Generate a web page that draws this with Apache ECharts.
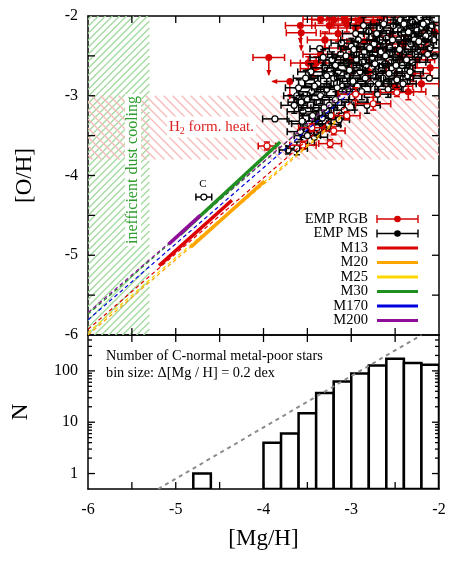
<!DOCTYPE html>
<html>
<head>
<meta charset="utf-8">
<script src="https://cdn.jsdelivr.net/npm/echarts@6/dist/echarts.min.js"></script>
<style>
  html, body { margin: 0; padding: 0; background: #fff; }
  #chart { width: 463px; height: 563px; }
</style>
</head>
<body>
<div id="chart"></div>
<script>
// ---- data ----
// [x, y, xerr, yerr]
const msPoints = [
  [-3.87,-3.29,0.14,0], [-3.36,-2.41,0.11,0], [-3.11,-2.34,0.12,0], [-2.05,-2.50,0.15,0],
  [-2.11,-2.78,0.18,0], [-3.72,-3.68,0.1,0.05], [-3.62,-3.66,0.12,0.08],
  [-3.58,-3.45,0.15,0.1], [-3.55,-3.20,0.18,0.1], [-3.50,-3.05,0.15,0.1], [-3.48,-3.35,0.2,0.12],
  [-3.45,-2.95,0.15,0.1], [-3.42,-3.52,0.15,0.1], [-3.40,-3.15,0.2,0.1], [-3.62,-3.00,0.15,0.1],
  [-3.65,-3.12,0.15,0.1], [-3.52,-2.78,0.14,0.1],
  [-3.38,-2.85,0.15,0.1], [-3.35,-3.00,0.2,0.1], [-3.33,-3.28,0.15,0.1], [-3.30,-2.65,0.15,0.1],
  [-3.28,-2.92,0.12,0.1], [-3.25,-3.12,0.18,0.1], [-3.22,-2.55,0.15,0.1], [-3.20,-2.78,0.15,0.1],
  [-3.37,-3.42,0.12,0.1], [-3.26,-3.36,0.14,0.08],
  [-3.18,-3.05,0.15,0.1], [-3.15,-2.70,0.18,0.1], [-3.12,-2.48,0.15,0.1], [-3.10,-2.88,0.15,0.1],
  [-3.08,-3.18,0.12,0.1], [-3.05,-2.60,0.2,0.1], [-3.02,-2.95,0.15,0.1], [-3.00,-2.38,0.15,0.1],
  [-3.14,-3.30,0.12,0.08], [-3.04,-2.75,0.15,0.1],
  [-2.98,-2.82,0.15,0.1], [-2.96,-3.08,0.15,0.1], [-2.94,-2.55,0.15,0.1], [-2.92,-2.30,0.2,0.1],
  [-2.90,-2.70,0.15,0.1], [-2.88,-2.95,0.18,0.1], [-2.85,-2.45,0.15,0.1], [-2.83,-2.62,0.15,0.1],
  [-2.82,-3.12,0.15,0.1], [-2.80,-2.20,0.15,0.1],
  [-2.78,-2.85,0.15,0.1], [-2.76,-2.52,0.15,0.1], [-2.74,-2.35,0.18,0.1], [-2.72,-2.70,0.15,0.1],
  [-2.70,-2.98,0.15,0.1], [-2.68,-2.15,0.15,0.1], [-2.66,-2.45,0.15,0.1], [-2.64,-2.78,0.2,0.1],
  [-2.62,-2.60,0.15,0.1], [-2.60,-2.28,0.15,0.1],
  [-2.58,-2.92,0.15,0.1], [-2.56,-2.40,0.15,0.1], [-2.54,-2.65,0.15,0.1], [-2.52,-2.12,0.15,0.1],
  [-2.50,-2.52,0.2,0.1], [-2.48,-2.80,0.15,0.1], [-2.46,-2.30,0.15,0.1], [-2.44,-2.05,0.15,0.1],
  [-2.42,-2.62,0.15,0.1], [-2.40,-2.20,0.15,0.1],
  [-2.38,-2.45,0.15,0.1], [-2.36,-2.75,0.15,0.1], [-2.34,-2.10,0.15,0.1], [-2.32,-2.35,0.15,0.1],
  [-2.30,-2.58,0.15,0.1], [-2.28,-2.25,0.15,0.1], [-2.26,-2.05,0.15,0.1], [-2.24,-2.42,0.15,0.1],
  [-2.20,-2.15,0.15,0.1],
  [-2.18,-2.32,0.15,0.1], [-2.14,-2.08,0.15,0.1], [-2.12,-2.22,0.15,0.1],
  [-2.10,-2.40,0.15,0.1], [-2.08,-2.12,0.15,0.1], [-2.06,-2.30,0.15,0.1],
  [-2.30,-2.08,0.12,0.08], [-2.25,-2.18,0.12,0.08], [-2.22,-2.02,0.12,0.08], [-2.18,-2.10,0.12,0.08],
  [-2.15,-2.25,0.12,0.08], [-2.35,-2.20,0.12,0.08], [-2.28,-2.30,0.12,0.08], [-2.40,-2.10,0.12,0.08],
  [-3.46,-2.70,0.15,0.1], [-3.42,-2.88,0.18,0.1], [-3.32,-2.52,0.15,0.1], [-3.28,-2.75,0.2,0.1],
  [-3.18,-2.62,0.15,0.1], [-3.16,-2.90,0.15,0.1], [-3.06,-2.50,0.15,0.1], [-3.02,-2.68,0.18,0.1],
  [-2.97,-2.42,0.15,0.1], [-2.93,-2.88,0.15,0.1], [-2.87,-2.58,0.15,0.1], [-2.84,-2.78,0.18,0.1],
  [-2.79,-2.40,0.15,0.1], [-2.73,-2.60,0.15,0.1], [-2.69,-2.85,0.15,0.1], [-2.67,-2.30,0.15,0.1],
  [-2.61,-2.50,0.18,0.1], [-2.57,-2.72,0.15,0.1], [-2.53,-2.30,0.15,0.1], [-2.49,-2.62,0.15,0.1],
  [-2.45,-2.42,0.15,0.1], [-2.41,-2.85,0.15,0.1], [-2.37,-2.55,0.15,0.1], [-2.33,-2.70,0.15,0.1],
  [-2.27,-2.48,0.15,0.1], [-2.23,-2.32,0.15,0.1], [-2.13,-2.48,0.15,0.1],
  [-3.56,-3.32,0.15,0.1], [-3.50,-3.50,0.15,0.1], [-3.44,-3.25,0.15,0.1], [-3.39,-3.40,0.15,0.1],
  [-3.31,-3.15,0.15,0.1], [-3.23,-3.25,0.15,0.1], [-3.60,-2.90,0.15,0.1], [-3.57,-3.08,0.15,0.1],
  [-2.95,-2.22,0.15,0.1], [-2.86,-2.12,0.15,0.1], [-2.71,-2.22,0.15,0.1], [-2.63,-2.10,0.15,0.1]
];
const cPoint = [[-4.68, -4.27, 0.09, 0]];
const rgbPoints = [
  [-3.49,-2.59,0.2,0.08], [-3.40,-2.59,0.18,0.08], [-3.43,-2.66,0.15,0.1], [-3.35,-2.48,0.2,0.1],
  [-3.30,-2.30,0.2,0.1], [-3.25,-2.12,0.2,0.1], [-3.20,-2.05,0.25,0.1], [-3.15,-2.22,0.2,0.1],
  [-3.10,-2.40,0.2,0.1], [-3.05,-2.10,0.2,0.1], [-3.00,-2.55,0.2,0.1], [-2.95,-2.15,0.2,0.1],
  [-2.90,-2.05,0.2,0.1], [-2.85,-2.32,0.2,0.1], [-2.80,-2.70,0.2,0.1], [-2.75,-2.08,0.2,0.1],
  [-2.70,-2.42,0.2,0.1], [-2.65,-2.02,0.2,0.1], [-2.60,-2.60,0.2,0.1], [-2.55,-2.25,0.2,0.1],
  [-2.50,-2.88,0.2,0.1], [-2.45,-2.50,0.2,0.1], [-2.40,-2.35,0.2,0.1], [-2.35,-2.95,0.2,0.1],
  [-2.30,-2.72,0.2,0.1], [-2.25,-2.55,0.2,0.1], [-2.20,-2.85,0.2,0.1], [-2.15,-2.45,0.2,0.1],
  [-2.10,-2.65,0.2,0.1], [-2.05,-2.20,0.2,0.1], [-3.35,-2.04,0.2,0.05], [-3.08,-2.03,0.2,0.05]
];
const rgbOpenPoints = [
  [-3.96,-3.63,0.1,0.05], [-3.24,-3.60,0.13,0.05], [-3.20,-3.44,0.13,0.05], [-2.48,-2.96,0.19,0.05],
  [-3.45,-3.40,0.15,0.05], [-3.55,-3.62,0.15,0.05], [-3.05,-3.25,0.15,0.05], [-2.75,-3.10,0.2,0.08],
  [-2.95,-2.98,0.2,0.08]
];
// [x, y, xerr, leftArrow] upper limits
const rgbLimits = [
  [-3.58,-2.12,0.17,0], [-3.57,-2.21,0.17,0], [-3.94,-2.52,0.18,0], [-3.70,-2.82,0,1]
];

// model tracks: solid part and dashed extension
const m13Line = [[-5.19,-5.13], [-4.36,-4.31]];
const m13Ext = [[-6,-5.93], [-3.0,-3.08]];
const m20Line = [[-4.83,-4.90], [-3.99,-4.07]];
const m20Ext = [[-6,-6.0], [-3.12,-3.28]];
const m25Ext = [[-6,-5.97], [-3.1,-3.24]];
const m30Line = [[-4.95,-4.74], [-3.81,-3.58]];
const m30Ext = [[-6,-5.74], [-2.98,-2.86]];
const m170Ext = [[-6,-5.81], [-2.98,-2.93]];
const m200Line = [[-5.08,-4.86], [-4.72,-4.50]];
const m200Ext = [[-6,-5.72], [-3.0,-2.88]];

// shaded regions [xMin, xMax, yMin, yMax]
const dustRegion = [[-6, -5.3, -6, -2]];
const h2Region = [[-6, -2, -3.8, -3.0]];

// histogram, bin size 0.2
const binLeft = [-4.8, -4.0, -3.8, -3.6, -3.4, -3.2, -3.0, -2.8, -2.6, -2.4, -2.2];
const binCount = [1, 4, 6, 15, 37, 62, 89, 127, 173, 143, 131];
const binSize = 0.2;
const powerLaw = [[-5.2, 0.5], [-2.2, 500]];

// tick positions
const halfTicks = [-5.5, -5, -4.5, -4, -3.5, -3, -2.5];
const logMajor = [1, 10, 100];
const logMinor = [2,3,4,5,6,7,8,9,20,30,40,50,60,70,80,90,200,300,400];

const FONT = 'Liberation Serif';
const RED = '#d40000';

const histData = binLeft.map((x, i) => [x, x + binSize, binCount[i]]);

// ---- renderers ----
function hatchRender(color, dir, gap) {
  return function (params, api) {
    const p0 = api.coord([api.value(0), api.value(3)]);
    const p1 = api.coord([api.value(1), api.value(2)]);
    const x0 = p0[0], y0 = p0[1], w = p1[0] - p0[0], h = p1[1] - p0[1];
    const ch = [];
    if (dir === '/') {
      for (let k = gap / 2; k < w + h; k += gap) {
        const ua = Math.max(0, k - h), ub = Math.min(w, k);
        ch.push({ type: 'line', shape: { x1: x0 + ua, y1: y0 + k - ua, x2: x0 + ub, y2: y0 + k - ub },
          style: { stroke: color, lineWidth: 1.4 } });
      }
    } else {
      for (let k = -h + gap / 2; k < w; k += gap) {
        const ua = Math.max(0, k), ub = Math.min(w, k + h);
        ch.push({ type: 'line', shape: { x1: x0 + ua, y1: y0 + ua - k, x2: x0 + ub, y2: y0 + ub - k },
          style: { stroke: color, lineWidth: 1.4 } });
      }
    }
    return { type: 'group', children: ch };
  };
}

function errRender(color, fill) {
  return function (params, api) {
    const x = api.value(0), y = api.value(1), ex = api.value(2), ey = api.value(3);
    const c = api.coord([x, y]);
    const st = { stroke: color, lineWidth: 1.5 };
    const ch = [];
    if (ex > 0) {
      const a = api.coord([x - ex, y])[0], b = api.coord([x + ex, y])[0];
      ch.push({ type: 'line', shape: { x1: a, y1: c[1], x2: b, y2: c[1] }, style: st });
      ch.push({ type: 'line', shape: { x1: a, y1: c[1] - 3.5, x2: a, y2: c[1] + 3.5 }, style: st });
      ch.push({ type: 'line', shape: { x1: b, y1: c[1] - 3.5, x2: b, y2: c[1] + 3.5 }, style: st });
    }
    if (ey > 0) {
      const t = api.coord([x, y + ey])[1], b = api.coord([x, y - ey])[1];
      ch.push({ type: 'line', shape: { x1: c[0], y1: t, x2: c[0], y2: b }, style: st });
      ch.push({ type: 'line', shape: { x1: c[0] - 3, y1: t, x2: c[0] + 3, y2: t }, style: st });
      ch.push({ type: 'line', shape: { x1: c[0] - 3, y1: b, x2: c[0] + 3, y2: b }, style: st });
    }
    ch.push({ type: 'circle', shape: { cx: c[0], cy: c[1], r: 3 },
      style: { fill: fill, stroke: color, lineWidth: 1.2 } });
    return { type: 'group', children: ch };
  };
}

function limitRender(params, api) {
  const x = api.value(0), y = api.value(1), ex = api.value(2), left = api.value(3);
  const c = api.coord([x, y]);
  const st = { stroke: RED, lineWidth: 1.5 };
  const ch = [];
  if (ex > 0) {
    const a = api.coord([x - ex, y])[0], b = api.coord([x + ex, y])[0];
    ch.push({ type: 'line', shape: { x1: a, y1: c[1], x2: b, y2: c[1] }, style: st });
    ch.push({ type: 'line', shape: { x1: a, y1: c[1] - 3.5, x2: a, y2: c[1] + 3.5 }, style: st });
    ch.push({ type: 'line', shape: { x1: b, y1: c[1] - 3.5, x2: b, y2: c[1] + 3.5 }, style: st });
  }
  const by = api.coord([x, y - 0.22])[1];
  ch.push({ type: 'line', shape: { x1: c[0], y1: c[1], x2: c[0], y2: by }, style: st });
  ch.push({ type: 'polygon', shape: { points: [[c[0] - 2.5, by - 5], [c[0] + 2.5, by - 5], [c[0], by + 1]] },
    style: { fill: RED } });
  if (left) {
    const lx = api.coord([x - 0.2, y])[0];
    ch.push({ type: 'line', shape: { x1: c[0], y1: c[1], x2: lx, y2: c[1] }, style: st });
    ch.push({ type: 'polygon', shape: { points: [[lx + 5, c[1] - 2.5], [lx + 5, c[1] + 2.5], [lx - 1, c[1]]] },
      style: { fill: RED } });
  }
  ch.push({ type: 'circle', shape: { cx: c[0], cy: c[1], r: 3.5 }, style: { fill: RED } });
  return { type: 'group', children: ch };
}

function histRender(params, api) {
  const p0 = api.coord([api.value(0), api.value(2)]);
  const p1 = api.coord([api.value(1), 0.5]);
  return { type: 'rect', shape: { x: p0[0], y: p0[1], width: p1[0] - p0[0], height: p1[1] - p0[1] },
    style: { fill: '#fff', stroke: '#000', lineWidth: 2.5 } };
}

// frame ticks: item [xv, yv, len, kind]  kind 0 = x tick, 1 = y tick, 2 = both
function tickRender(xLo, xHi, yLo, yHi) {
  return function (params, api) {
    const xv = api.value(0), yv = api.value(1), len = api.value(2), kind = api.value(3);
    const st = { stroke: '#000', lineWidth: 1.3 };
    const ch = [];
    if (kind !== 1) {
      const b = api.coord([xv, yLo]), t = api.coord([xv, yHi]);
      ch.push({ type: 'line', shape: { x1: b[0], y1: b[1], x2: b[0], y2: b[1] - len }, style: st });
      ch.push({ type: 'line', shape: { x1: t[0], y1: t[1], x2: t[0], y2: t[1] + len }, style: st });
    }
    if (kind !== 0) {
      const l = api.coord([xLo, yv]), r = api.coord([xHi, yv]);
      ch.push({ type: 'line', shape: { x1: l[0], y1: l[1], x2: l[0] + len, y2: l[1] }, style: st });
      ch.push({ type: 'line', shape: { x1: r[0], y1: r[1], x2: r[0] - len, y2: r[1] }, style: st });
    }
    return { type: 'group', children: ch };
  };
}

function modelLines(ext, line, color, z) {
  const out = [{
    type: 'line', data: ext, xAxisIndex: 0, yAxisIndex: 0, symbol: 'none', z: 5,
    lineStyle: { color: color, width: 1.2, type: [4, 3] }, silent: true
  }];
  if (line) out.push({
    type: 'line', data: line, xAxisIndex: 0, yAxisIndex: 0, symbol: 'none', z: z,
    lineStyle: { color: color, width: 3.5 }, silent: true
  });
  return out;
}

const topTicks = halfTicks.map(v => [v, v, 7, 2]);
const bottomTicks = halfTicks.map(v => [v, 1, 7, 0])
  .concat(logMajor.map(v => [-4, v, 7, 1]))
  .concat(logMinor.map(v => [-4, v, 4, 1]));

// ---- axes ----
const tickLbl = { fontFamily: FONT, fontSize: 16, color: '#000' };
const frameLine = { show: true, lineStyle: { color: '#000', width: 1.5 } };
const tick = { show: false };
const intOnly = v => (Math.abs(v - Math.round(v)) < 1e-6 ? String(Math.round(v)) : '');
const decOnly = v => { const l = Math.log10(v); return Math.abs(l - Math.round(l)) < 1e-6 ? String(Math.round(v)) : ''; };

const xAxes = [
  { gridIndex: 0, position: 'bottom' },
  { gridIndex: 0, position: 'top' },
  { gridIndex: 1, position: 'bottom', label: true },
  { gridIndex: 1, position: 'top' }
].map(a => ({
  type: 'value', gridIndex: a.gridIndex, position: a.position, min: -6, max: -2, interval: 0.5,
  axisLine: frameLine, axisTick: tick, splitLine: { show: false },
  axisLabel: a.label ? Object.assign({ formatter: intOnly, margin: 13 }, tickLbl) : { show: false },
  name: a.label ? '[Mg/H]' : '', nameLocation: 'middle', nameGap: 38,
  nameTextStyle: { fontFamily: FONT, fontSize: 23, color: '#000' }
}));

const yAxes = [
  { type: 'value', gridIndex: 0, position: 'left', min: -6, max: -2, interval: 0.5,
    axisLine: frameLine, axisTick: tick, splitLine: { show: false },
    axisLabel: Object.assign({ formatter: intOnly, margin: 10 }, tickLbl),
    name: '[O/H]', nameLocation: 'middle', nameRotate: 90, nameGap: 52,
    nameTextStyle: { fontFamily: FONT, fontSize: 23, color: '#000' } },
  { type: 'value', gridIndex: 0, position: 'right', min: -6, max: -2, interval: 0.5,
    axisLine: frameLine, axisTick: tick, splitLine: { show: false }, axisLabel: { show: false } },
  { type: 'log', logBase: 10, gridIndex: 1, position: 'left', min: 0.5, max: 500,
    axisLine: frameLine, axisTick: tick, splitLine: { show: false },
    axisLabel: Object.assign({ formatter: decOnly, margin: 10 }, tickLbl),
    name: 'N', nameLocation: 'middle', nameRotate: 90, nameGap: 56,
    nameTextStyle: { fontFamily: FONT, fontSize: 23, color: '#000' } },
  { type: 'log', logBase: 10, gridIndex: 1, position: 'right', min: 0.5, max: 500,
    axisLine: frameLine, axisTick: tick, splitLine: { show: false }, axisLabel: { show: false } }
];

// ---- legend (drawn as graphic) ----
const legendRows = [
  ['EMP RGB', RED, 'err'], ['EMP MS', '#000', 'err'], ['M13', '#dd0000'], ['M20', '#ffa500'],
  ['M25', '#ffd700'], ['M30', '#1f8f1f'], ['M170', '#0000dd'], ['M200', '#8e0e9a']
];
const legendEls = [];
legendRows.forEach((r, i) => {
  const y = 219 + i * 14.5;
  legendEls.push({ type: 'text', x: 368, y: y, z: 20,
    style: { text: r[0], fontFamily: FONT, fontSize: 14.5, fill: '#000', align: 'right', verticalAlign: 'middle' } });
  if (r[2] === 'err') {
    const st = { stroke: r[1], lineWidth: 1.4 };
    legendEls.push({ type: 'line', z: 20, shape: { x1: 377, y1: y, x2: 418, y2: y }, style: st });
    legendEls.push({ type: 'line', z: 20, shape: { x1: 377, y1: y - 4, x2: 377, y2: y + 4 }, style: st });
    legendEls.push({ type: 'line', z: 20, shape: { x1: 418, y1: y - 4, x2: 418, y2: y + 4 }, style: st });
    legendEls.push({ type: 'circle', z: 20, shape: { cx: 397.5, cy: y, r: 3.3 }, style: { fill: r[1] } });
  } else {
    legendEls.push({ type: 'line', z: 20, shape: { x1: 377, y1: y, x2: 418, y2: y },
      style: { stroke: r[1], lineWidth: 3 } });
  }
});

const textEls = [
  { type: 'text', x: 133, y: 170, rotation: Math.PI / 2, z: 20,
    style: { text: 'inefficient dust cooling', fontFamily: FONT, fontSize: 16, fill: '#2e9e2e',
      align: 'center', verticalAlign: 'middle', backgroundColor: '#fff', padding: [0, 2] } },
  { type: 'text', x: 167, y: 127, z: 20,
    style: { text: '{a|H}{s|2}{a| form. heat.}', fill: '#dd2222', align: 'left', verticalAlign: 'middle',
      backgroundColor: '#fff', padding: [1, 2],
      rich: { a: { fontFamily: FONT, fontSize: 15, fill: '#dd2222' },
              s: { fontFamily: FONT, fontSize: 10, fill: '#dd2222', padding: [9, 0, 0, 0] } } } },
  { type: 'text', x: 203, y: 184, z: 20,
    style: { text: 'C', fontFamily: FONT, fontSize: 11, fill: '#000', align: 'center', verticalAlign: 'middle' } },
  { type: 'text', x: 106, y: 356, z: 20,
    style: { text: 'Number of C-normal metal-poor stars', fontFamily: FONT, fontSize: 14.3, fill: '#000', verticalAlign: 'middle' } },
  { type: 'text', x: 106, y: 373, z: 20,
    style: { text: 'bin size: \u0394[Mg / H] = 0.2 dex', fontFamily: FONT, fontSize: 14.3, fill: '#000', verticalAlign: 'middle' } }
];

const chart = echarts.init(document.getElementById('chart'), null, { renderer: 'canvas' });

chart.setOption({
  backgroundColor: '#fff',
  animation: false,
  grid: [
    { left: 88, top: 16, width: 351, height: 319, outerBoundsMode: 'none' },
    { left: 88, top: 335, width: 351, height: 154, outerBoundsMode: 'none' }
  ],
  xAxis: xAxes,
  yAxis: yAxes,
  graphic: { elements: legendEls.concat(textEls) },
  series: [
    { type: 'custom', data: dustRegion, xAxisIndex: 0, yAxisIndex: 0, z: 1, clip: true, silent: true,
      renderItem: hatchRender('#a6dba0', '/', 7) },
    { type: 'custom', data: h2Region, xAxisIndex: 0, yAxisIndex: 0, z: 1, clip: true, silent: true,
      renderItem: hatchRender('#f7bcbc', '\\', 9) },
    { type: 'custom', data: rgbPoints, xAxisIndex: 0, yAxisIndex: 0, z: 3, clip: true,
      renderItem: errRender(RED, RED) },
    { type: 'custom', data: rgbLimits, xAxisIndex: 0, yAxisIndex: 0, z: 3, clip: true,
      renderItem: limitRender },
    { type: 'custom', data: msPoints, xAxisIndex: 0, yAxisIndex: 0, z: 4, clip: true,
      renderItem: errRender('#000', '#fff') },
    { type: 'custom', data: rgbOpenPoints, xAxisIndex: 0, yAxisIndex: 0, z: 4, clip: true,
      renderItem: errRender(RED, '#fff') },
    { type: 'custom', data: cPoint, xAxisIndex: 0, yAxisIndex: 0, z: 4, clip: true,
      renderItem: errRender('#000', '#fff') }
  ]
    .concat(modelLines(m25Ext, null, '#ffd700', 6))
    .concat(modelLines(m20Ext, m20Line, '#ffa500', 6))
    .concat(modelLines(m13Ext, m13Line, '#dd0000', 6))
    .concat(modelLines(m170Ext, null, '#0000dd', 6))
    .concat(modelLines(m30Ext, m30Line, '#1f8f1f', 6))
    .concat(modelLines(m200Ext, m200Line, '#8e0e9a', 7))
    .concat([
      { type: 'custom', data: histData, xAxisIndex: 2, yAxisIndex: 2, z: 3, clip: true,
        encode: { x: [0, 1], y: 2 }, renderItem: histRender },
      { type: 'line', data: powerLaw, xAxisIndex: 2, yAxisIndex: 2, symbol: 'none', z: 4, silent: true,
        lineStyle: { color: '#8c8c8c', width: 2, type: [4, 4] } },
      { type: 'custom', data: topTicks, xAxisIndex: 0, yAxisIndex: 0, z: 8, silent: true,
        renderItem: tickRender(-6, -2, -6, -2) },
      { type: 'custom', data: bottomTicks, xAxisIndex: 2, yAxisIndex: 2, z: 8, silent: true,
        renderItem: tickRender(-6, -2, 0.5, 500) }
    ])
});
</script>
</body>
</html>
